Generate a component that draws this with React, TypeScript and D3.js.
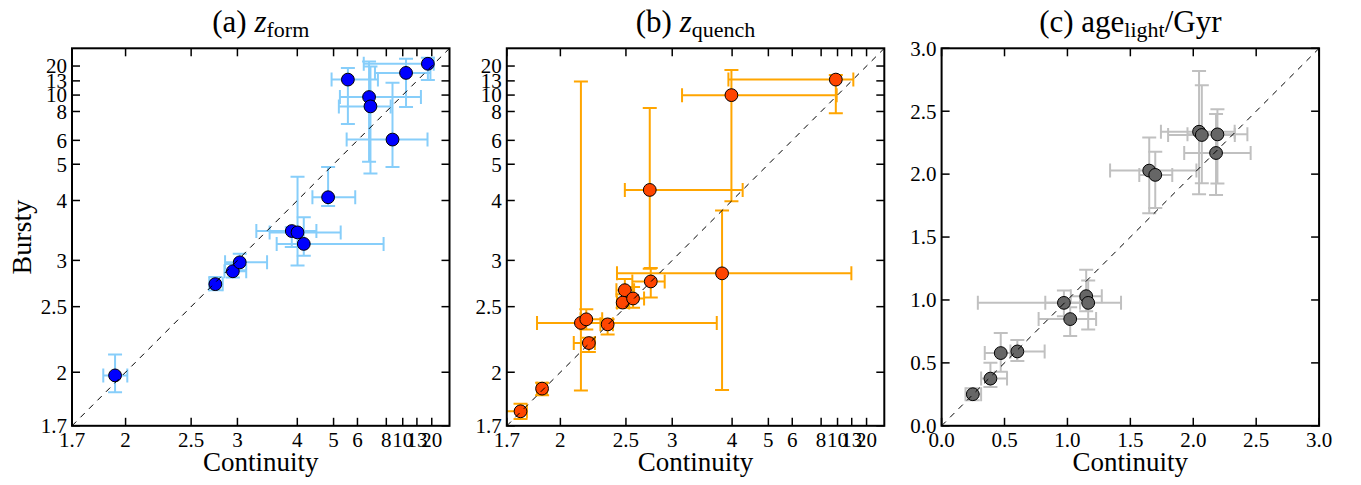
import React from 'react';
import * as d3 from 'd3';

// ---------- tick values / labels ----------
const zTickValues = [1.7, 2, 2.5, 3, 4, 5, 6, 8, 10, 13, 20];
const zTickLabels = ['1.7', '2', '2.5', '3', '4', '5', '6', '8', '10', '13', '20'];
const ageTickValues = [0, 0.5, 1, 1.5, 2, 2.5, 3];
const ageTickLabels = ['0.0', '0.5', '1.0', '1.5', '2.0', '2.5', '3.0'];

// ---------- (a) z_form ----------
const zformCont = [1.935, 2.741, 2.943, 3.03, 3.882, 4.005, 4.148, 4.818, 5.553, 6.66, 6.75, 8.64, 10.55, 17.4];
const zformContLo = [1.866, 2.677, 2.843, 2.85, 3.26, 3.469, 3.591, 4.363, 4.932, 5.23, 5.19, 5.5, 7.06, 6.34];
const zformContHi = [2.011, 2.823, 3.116, 3.427, 4.47, 5.26, 7.75, 5.89, 7.28, 14.28, 8.44, 17.2, 19.0, 21.7];
const zformBurst = [1.98, 2.723, 2.867, 2.975, 3.422, 3.4, 3.224, 4.073, 13.38, 9.7, 8.52, 6.04, 15.88, 22];
const zformBurstLo = [1.879, 2.66, 2.795, 2.88, 3.18, 2.935, 3.06, 3.88, 6.97, 5.09, 4.7, 4.91, 8.44, 13.27];
const zformBurstHi = [2.118, 2.8, 2.955, 3.085, 3.485, 4.6, 3.66, 4.91, 18.5, 24.5, 19.6, 12.46, 29, 31];

// ---------- (b) z_quench ----------
const zqCont = [1.77, 1.889, 2.1375, 2.176, 2.195, 2.341, 2.47, 2.49, 2.567, 2.748, 2.737, 3.79, 3.985, 9.74];
const zqContLo = [1.69, 1.86, 1.86, 2.135, 2.088, 2.283, 2.42, 2.415, 2.497, 2.56, 2.49, 2.42, 3.13, 3.92];
const zqContHi = [1.804, 1.918, 3.688, 2.297, 2.24, 2.385, 2.53, 2.577, 2.677, 2.907, 4.247, 12.9, 9.87, 13.48];
const zqBurst = [1.774, 1.9, 2.358, 2.388, 2.2, 2.346, 2.538, 2.66, 2.577, 2.752, 4.247, 2.843, 9.99, 13.38];
const zqBurstLo = [1.734, 1.862, 1.889, 2.305, 2.135, 2.264, 2.49, 2.555, 2.49, 2.587, 2.896, 1.892, 3.985, 7.83];
const zqBurstHi = [1.815, 1.935, 12.81, 2.476, 2.24, 2.388, 2.618, 2.78, 2.694, 2.907, 8.36, 3.79, 17.4, 14.96];

// ---------- (c) light-weighted age / Gyr ----------
const ageCont = [0.248, 0.388, 0.47, 0.602, 0.972, 1.022, 1.149, 1.165, 1.65, 1.698, 2.046, 2.068, 2.192, 2.181];
const ageContLo = [0.19, 0.314, 0.343, 0.547, 0.288, 0.771, 1.027, 0.824, 1.339, 1.571, 1.743, 1.8, 1.954, 1.928];
const ageContHi = [0.314, 0.52, 0.6, 0.819, 1.1, 1.228, 1.273, 1.426, 2.025, 1.833, 2.329, 2.33, 2.43, 2.456];
const ageBurst = [0.251, 0.375, 0.578, 0.591, 0.977, 0.848, 1.03, 0.977, 2.028, 1.994, 2.337, 2.311, 2.316, 2.168];
const ageBurstLo = [0.203, 0.309, 0.43, 0.515, 0.871, 0.713, 0.911, 0.766, 1.69, 1.73, 1.84, 1.928, 1.925, 1.835];
const ageBurstHi = [0.298, 0.502, 0.737, 0.681, 1.075, 0.943, 1.241, 1.154, 2.292, 2.178, 2.82, 2.707, 2.516, 2.477];

// cosmic time at redshift z (flat LCDM, H0=70, Om=0.3), in Gyr
const H0 = 70;
const OM = 0.3;
const OL = 0.7;
function cosmicAge(z: number): number {
  const hubbleTime = 977.8 / H0;
  return (2 / (3 * Math.sqrt(OL))) * hubbleTime * Math.asinh(Math.sqrt(OL / OM) * Math.pow(1 + z, -1.5));
}

const FONT = '"Liberation Serif", "Times New Roman", serif';
const TOP = 48.3;
const SIZE = 377.5;
const LEFTS = [72, 506.8, 941.6];

type PanelProps = {
  idx: number;
  left: number;
  mode: 'z' | 'lin';
  xv: number[]; xlo: number[]; xhi: number[];
  yv: number[]; ylo: number[]; yhi: number[];
  pointColor: string;
  errColor: string;
  title: React.ReactNode;
  ylabel?: string;
};

function Panel(p: PanelProps) {
  const { left, mode } = p;
  const right = left + SIZE;
  const bottom = TOP + SIZE;
  let fx: (v: number) => number;
  let fy: (v: number) => number;
  let ticks: number[];
  let labels: string[];
  let x0: number, x1: number, y0: number, y1: number;
  if (mode === 'z') {
    const xs = d3.scaleLinear().domain([cosmicAge(1.7), 0]).range([left, right]);
    const ys = d3.scaleLinear().domain([cosmicAge(1.7), 0]).range([bottom, TOP]);
    fx = (v) => xs(cosmicAge(v));
    fy = (v) => ys(cosmicAge(v));
    ticks = zTickValues;
    labels = zTickLabels;
    x0 = xs(cosmicAge(1.7)); y0 = ys(cosmicAge(1.7));
    x1 = xs(0); y1 = ys(0);
  } else {
    const xs = d3.scaleLinear().domain([0, 3]).range([left, right]);
    const ys = d3.scaleLinear().domain([0, 3]).range([bottom, TOP]);
    fx = (v) => xs(v);
    fy = (v) => ys(v);
    ticks = ageTickValues;
    labels = ageTickLabels;
    x0 = xs(0); y0 = ys(0); x1 = xs(3); y1 = ys(3);
  }
  const clipId = `clip-${p.idx}`;
  const cap = 7;
  const tickLen = 8;
  const cx = (left + right) / 2;
  return (
    <g>
      <defs>
        <clipPath id={clipId}>
          <rect x={left} y={TOP} width={SIZE} height={SIZE} />
        </clipPath>
      </defs>
      <g clipPath={`url(#${clipId})`}>
        {p.xv.map((_, i) => {
          const px = fx(p.xv[i]);
          const py = fy(p.yv[i]);
          const xl = fx(p.xlo[i]);
          const xh = fx(p.xhi[i]);
          const yl = fy(p.ylo[i]);
          const yh = fy(p.yhi[i]);
          return (
            <g key={i} stroke={p.errColor} strokeWidth={2} fill="none">
              <line x1={xl} x2={xh} y1={py} y2={py} />
              <line x1={px} x2={px} y1={yl} y2={yh} />
              <line x1={xl} x2={xl} y1={py - cap} y2={py + cap} />
              <line x1={xh} x2={xh} y1={py - cap} y2={py + cap} />
              <line x1={px - cap} x2={px + cap} y1={yl} y2={yl} />
              <line x1={px - cap} x2={px + cap} y1={yh} y2={yh} />
            </g>
          );
        })}
        {p.xv.map((_, i) => (
          <circle key={i} cx={fx(p.xv[i])} cy={fy(p.yv[i])} r={6.4} fill={p.pointColor} stroke="#000" strokeWidth={1} />
        ))}
        <line x1={x0} y1={y0} x2={x1} y2={y1} stroke="#000" strokeWidth={1} strokeDasharray="6,6" />
      </g>
      {ticks.map((t, i) => {
        const tx = fx(t);
        const ty = fy(t);
        return (
          <g key={i} stroke="#000" strokeWidth={1.5}>
            <line x1={tx} x2={tx} y1={bottom} y2={bottom - tickLen} />
            <line x1={tx} x2={tx} y1={TOP} y2={TOP + tickLen} />
            <line x1={left} x2={left + tickLen} y1={ty} y2={ty} />
            <line x1={right} x2={right - tickLen} y1={ty} y2={ty} />
          </g>
        );
      })}
      <rect x={left} y={TOP} width={SIZE} height={SIZE} fill="none" stroke="#000" strokeWidth={2} />
      <g fontFamily={FONT} fontSize={21} fill="#000">
        {ticks.map((t, i) => (
          <text key={`x${i}`} x={fx(t)} y={bottom + 21.5} textAnchor="middle">{labels[i]}</text>
        ))}
        {ticks.map((t, i) => (
          <text key={`y${i}`} x={left - 5} y={fy(t)} dy="0.35em" textAnchor="end">{labels[i]}</text>
        ))}
      </g>
      <text x={cx} y={471} textAnchor="middle" fontFamily={FONT} fontSize={27}>Continuity</text>
      {p.ylabel ? (
        <text transform={`translate(31,${(TOP + bottom) / 2}) rotate(-90)`} textAnchor="middle" fontFamily={FONT} fontSize={28}>{p.ylabel}</text>
      ) : null}
      <text x={cx} y={32} textAnchor="middle" fontFamily={FONT} fontSize={31}>{p.title}</text>
    </g>
  );
}

export default function App() {
  return (
    <svg width={1361} height={485} style={{ position: 'absolute', left: 0, top: 0, background: '#fff' }}>
      <rect x={0} y={0} width={1361} height={485} fill="#fff" />
      <Panel idx={0} left={LEFTS[0]} mode="z"
        xv={zformCont} xlo={zformContLo} xhi={zformContHi}
        yv={zformBurst} ylo={zformBurstLo} yhi={zformBurstHi}
        pointColor="#0000ff" errColor="#87cefa" ylabel="Bursty"
        title={<>(a) <tspan fontStyle="italic">z</tspan><tspan fontSize={22} dy={5}>form</tspan></>} />
      <Panel idx={1} left={LEFTS[1]} mode="z"
        xv={zqCont} xlo={zqContLo} xhi={zqContHi}
        yv={zqBurst} ylo={zqBurstLo} yhi={zqBurstHi}
        pointColor="#ff4500" errColor="#ffa500"
        title={<>(b) <tspan fontStyle="italic">z</tspan><tspan fontSize={22} dy={5}>quench</tspan></>} />
      <Panel idx={2} left={LEFTS[2]} mode="lin"
        xv={ageCont} xlo={ageContLo} xhi={ageContHi}
        yv={ageBurst} ylo={ageBurstLo} yhi={ageBurstHi}
        pointColor="#666666" errColor="#c0c0c0"
        title={<>(c) age<tspan fontSize={22} dy={5}>light</tspan><tspan dy={-5}>/Gyr</tspan></>} />
    </svg>
  );
}
